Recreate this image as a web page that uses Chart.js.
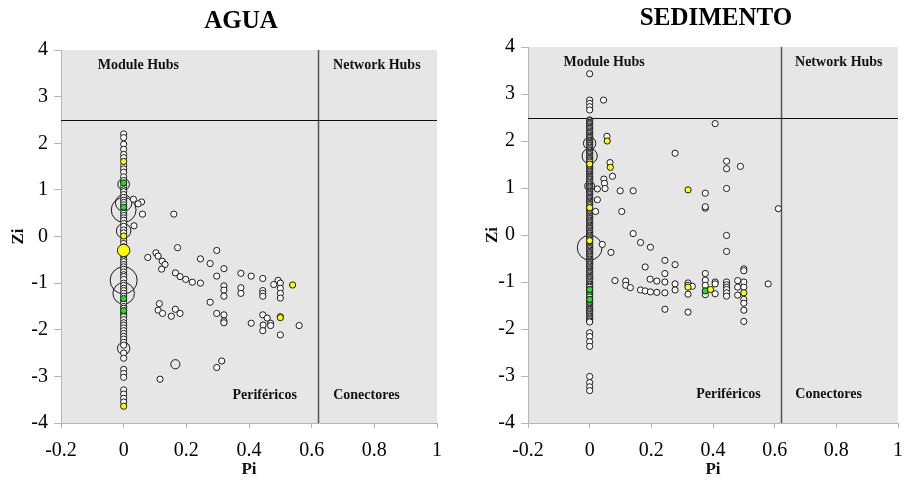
<!DOCTYPE html>
<html>
<head>
<meta charset="utf-8">
<title>Zi-Pi</title>
<script src="https://cdn.jsdelivr.net/npm/chart.js@4.4.1/dist/chart.umd.min.js"></script>
<style>
  html, body { margin: 0; padding: 0; background: #fff; }
  #wrap { position: relative; width: 914px; height: 480px; }
  .panel { position: absolute; top: 0; width: 457px; height: 480px; }
</style>
</head>
<body>
<div id="wrap">
  <div class="panel" style="left:0"><canvas id="agua" width="457" height="480"></canvas></div>
  <div class="panel" style="left:457px"><canvas id="sedimento" width="457" height="480"></canvas></div>
</div>
<script>
// Zi (within-module connectivity) vs Pi (among-module connectivity)
const ZI_CUT = 2.5;
const PI_CUT = 0.62;
const xTicks = [-0.2, 0, 0.2, 0.4, 0.6, 0.8, 1];
const yTicks = [-4, -3, -2, -1, 0, 1, 2, 3, 4];

// ---- AGUA ----
// nodes with Pi = 0
const aguaColY = [2.2, 2.12, 1.98, 1.87, 1.76, 1.69, 1.52, 1.45, 1.38, 1.28, 1.2, 1.07, 1.0, 0.96, 0.9,
  0.84, 0.78, 0.73, 0.68, 0.56, 0.5, 0.45, 0.4, 0.35, 0.28, 0.22, 0.14, 0.08, -0.08, -0.15, -0.22,
  -0.38, -0.43, -0.5, -0.54, -0.6, -0.65, -0.7, -0.76, -0.82, -0.86, -0.92, -1.0, -1.05, -1.11,
  -1.16, -1.22, -1.28, -1.38, -1.43, -1.5, -1.54, -1.64, -1.68, -1.72, -1.78, -1.85, -1.9, -1.96,
  -2.02, -2.08, -2.14, -2.2, -2.27, -2.33, -2.5, -2.61, -2.85, -2.94, -3.02, -3.29, -3.38, -3.47, -3.55];
// other nodes
const aguaPi = [0.031, 0.057, 0.046, 0.06, 0.16, 0.033, 0.172, 0.297, 0.077, 0.103, 0.11, 0.123, 0.132,
  0.121, 0.245, 0.276, 0.32, 0.297, 0.165, 0.18, 0.198, 0.219, 0.245, 0.374, 0.407, 0.444, 0.493,
  0.479, 0.5, 0.32, 0.32, 0.32, 0.374, 0.374, 0.444, 0.444, 0.444, 0.5, 0.5, 0.5, 0.276, 0.114,
  0.11, 0.124, 0.165, 0.152, 0.18, 0.297, 0.32, 0.32, 0.32, 0.407, 0.444, 0.458, 0.469, 0.469,
  0.445, 0.444, 0.5, 0.56, 0.5, 0.116, 0.297, 0.313];
const aguaZi = [0.80, 0.74, 0.70, 0.48, 0.48, 0.23, -0.24, -0.30, -0.45, -0.35, -0.42, -0.53, -0.6,
  -0.70, -0.48, -0.58, -0.69, -0.85, -0.78, -0.86, -0.92, -0.98, -1.0, -0.79, -0.85, -0.90, -0.94,
  -1.03, -1.0, -1.06, -1.15, -1.28, -1.10, -1.22, -1.16, -1.22, -1.28, -1.11, -1.22, -1.32, -1.41,
  -1.44, -1.58, -1.65, -1.56, -1.71, -1.65, -1.65, -1.68, -1.81, -1.85, -1.86, -1.68, -1.75, -1.86,
  -1.91, -1.90, -2.02, -1.72, -1.91, -2.11, -3.06, -2.81, -2.67];
// highly abundant nodes (relative weight)
const aguaBigPi = [0, 0, 0, 0, 0, 0, 0, 0.165];
const aguaBigZi = [0.57, 0.72, 0.12, -0.94, -1.22, 1.12, -2.40, -2.74];
const aguaBigW = [16, 7, 5.5, 19, 12, 3.5, 4, 2.2];
// highlighted nodes
const aguaYellowPi = [0, 0, 0, 0, 0.539, 0.5];
const aguaYellowZi = [1.61, 0.01, -0.30, -3.64, -1.04, -1.74];
const aguaYellowW = [1, 1, 4, 1, 1, 1];
const aguaGreenPi = [0, 0, 0, 0];
const aguaGreenZi = [1.15, 0.63, -1.33, -1.59];

// ---- SEDIMENTO ----
const sedColY = [3.43, 2.87, 2.80, 2.73, 2.66, 2.45, 2.40, 2.35, 2.29, 2.24, 2.18, 2.13, 2.08, 2.02,
  1.97, 1.92, 1.87, 1.81, 1.76, 1.71, 1.65, 1.60, 1.55, 1.46, 1.41, 1.36, 1.30, 1.25, 1.20, 1.15,
  1.09, 1.04, 0.99, 0.93, 0.88, 0.83, 0.78, 0.72, 0.67, 0.62, 0.53, 0.48, 0.43, 0.37, 0.32, 0.27,
  0.21, 0.16, 0.11, 0.05, 0.0, -0.05, -0.10, -0.16, -0.21, -0.26, -0.32, -0.37, -0.42, -0.48, -0.53,
  -0.58, -0.63, -0.69, -0.74, -0.79, -0.85, -0.90, -0.95, -1.01, -1.06, -1.11, -1.21, -1.26, -1.32,
  -1.42, -1.47, -1.53, -1.58, -1.63, -1.69, -1.74, -1.80, -1.85, -2.08, -2.16, -2.27, -2.37,
  -3.01, -3.14, -3.23, -3.31,
  2.43, 2.38, 2.32, 2.27, 2.21, 2.16, 2.10, 2.05, 2.0, 1.95, 1.9, 1.84, 1.79, 1.74, 1.68, 1.63,
  1.58, 1.5, 1.44, 1.39, 1.33, 1.28, 1.23, 1.18, 1.12, 1.07, 1.02, 0.96, 0.91, 0.86, 0.8, 0.75,
  0.7, 0.65, 0.58, 0.51, 0.46, 0.4, 0.35, 0.3, 0.24, 0.19, 0.14, 0.08, 0.03, -0.02, -0.08, -0.13,
  -0.19, -0.24, -0.29, -0.35, -0.4, -0.45, -0.51, -0.56, -0.61, -0.66, -0.72, -0.77, -0.82, -0.88,
  -0.93, -0.98, -1.04, -1.09, -1.16, -1.24, -1.29, -1.37, -1.45, -1.5, -1.56, -1.61, -1.66, -1.72,
  -1.77, -1.83];
const sedPi = [0.045, 0.407, 0.056, 0.277, 0.066, 0.074, 0.444, 0.444, 0.489, 0.046, 0.048, 0.05,
  0.025, 0.025, 0.019, 0.099, 0.141, 0.375, 0.444, 0.375, 0.375, 0.612, 0.104, 0.141, 0.165, 0.197,
  0.069, 0.041, 0.444, 0.444, 0.244, 0.277, 0.18, 0.244, 0.5, 0.082, 0.117, 0.117, 0.132, 0.196,
  0.218, 0.244, 0.165, 0.18, 0.197, 0.218, 0.244, 0.277, 0.277, 0.319, 0.319, 0.319, 0.333, 0.375,
  0.375, 0.375, 0.375, 0.407, 0.407, 0.407, 0.444, 0.444, 0.444, 0.444, 0.444, 0.444, 0.48, 0.48,
  0.48, 0.5, 0.5, 0.5, 0.5, 0.5, 0.5, 0.244, 0.319, 0.579, 0.5];
const sedZi = [2.87, 2.37, 2.1, 1.74, 1.54, 1.25, 1.57, 1.41, 1.46, 1.19, 1.10, 0.99, 0.98, 0.75, 0.5,
  0.94, 0.94, 0.89, 0.99, 0.57, 0.60, 0.56, 0.5, 0.03, -0.16, -0.26, -0.37, -0.2, -0.01, -0.35, -0.54,
  -0.63, -0.68, -0.82, -0.72, -0.97, -0.98, -1.07, -1.12, -0.94, -0.98, -1.0, -1.17, -1.19, -1.21,
  -1.22, -1.23, -1.04, -1.17, -1.02, -1.07, -1.26, -1.09, -0.82, -0.96, -1.07, -1.27, -1.0, -1.04,
  -1.25, -1.0, -1.06, -1.11, -1.16, -1.23, -1.30, -0.97, -1.11, -1.28, -1.0, -1.11, -1.37, -1.45,
  -1.6, -1.84, -1.58, -1.64, -1.04, -0.76];
const sedBigPi = [0, 0, 0, 0];
const sedBigZi = [-0.27, 1.95, 1.68, 1.04];
const sedBigW = [16, 4, 6, 2.5];
const sedYellowPi = [0, 0, 0, 0.057, 0.067, 0.319, 0.319, 0.392, 0.5];
const sedYellowZi = [1.51, 0.58, -0.12, 2.0, 1.44, 0.96, -1.11, -1.16, -1.23];
const sedYellowW = [1, 1, 1, 1, 1, 1, 1, 1, 1];
const sedGreenPi = [0, 0, 0.375];
const sedGreenZi = [-1.16, -1.37, -1.19];

const SERIF = '"Liberation Serif", "Times New Roman", serif';
const BASE_R = 3.1;

function pts(xs, ys) {
  return xs.map((x, i) => ({ x: x, y: ys[i] }));
}
// Pi = 0 nodes, drawn from the top down so the stack reads as one column
function column(ys) {
  return ys.slice().sort((a, b) => b - a).map(y => ({ x: 0, y: y }));
}

// gray plot area, cut-off lines, role labels and panel title
const rolesPlugin = {
  id: 'roles',
  beforeDraw(chart) {
    const a = chart.chartArea, c = chart.ctx;
    c.save();
    c.fillStyle = '#e6e6e6';
    c.fillRect(a.left, a.top, a.right - a.left, a.bottom - a.top);
    c.restore();
  },
  beforeDatasetsDraw(chart) {
    const a = chart.chartArea, c = chart.ctx;
    const xs = chart.scales.x, ys = chart.scales.y;
    const px = Math.round(xs.getPixelForValue(PI_CUT)) + 0.5;
    const py = Math.round(ys.getPixelForValue(ZI_CUT)) + 0.5;
    c.save();
    c.strokeStyle = '#555';
    c.lineWidth = 1.5;
    c.beginPath();
    c.moveTo(px, a.top);
    c.lineTo(px, a.bottom);
    c.stroke();
    c.strokeStyle = '#111';
    c.lineWidth = 1;
    c.beginPath();
    c.moveTo(a.left, py);
    c.lineTo(a.right, py);
    c.stroke();
    c.restore();
  },
  afterDraw(chart, args, opts) {
    const a = chart.chartArea, c = chart.ctx;
    const xs = chart.scales.x, ys = chart.scales.y;
    c.save();
    c.fillStyle = '#111';
    c.textAlign = 'center';
    c.textBaseline = 'middle';
    c.font = 'bold 14px ' + SERIF;
    opts.labels.forEach(l => {
      c.fillText(l.text, xs.getPixelForValue(l.x), ys.getPixelForValue(l.y));
    });
    c.fillStyle = '#000';
    c.font = 'bold 25px ' + SERIF;
    c.fillText(opts.title, (a.left + a.right) / 2 + opts.titleShift, opts.titleY);
    c.restore();
  }
};

function makeChart(id, d) {
  const axisColor = '#b5b5b5';
  return new Chart(document.getElementById(id), {
    type: 'scatter',
    data: {
      datasets: [
        {
          label: 'highlight-yellow',
          data: pts(d.yellowPi, d.yellowZi),
          backgroundColor: '#ffff00',
          pointRadius: ctx => BASE_R * Math.sqrt(d.yellowW[ctx.dataIndex] || 1)
        },
        {
          label: 'highlight-green',
          data: pts(d.greenPi, d.greenZi),
          backgroundColor: '#22e022',
          pointRadius: BASE_R
        },
        {
          label: 'nodes',
          data: pts(d.pi, d.zi),
          backgroundColor: '#ffffff',
          pointRadius: BASE_R
        },
        {
          label: 'nodes-pi0',
          data: column(d.colY),
          backgroundColor: '#ffffff',
          pointRadius: BASE_R
        },
        {
          label: 'abundant',
          data: pts(d.bigPi, d.bigZi),
          backgroundColor: 'rgba(0,0,0,0)',
          pointRadius: ctx => BASE_R * Math.sqrt(d.bigW[ctx.dataIndex])
        }
      ].map(ds => Object.assign({ borderColor: '#1a1a1a', borderWidth: 1, pointHoverRadius: ds.pointRadius }, ds))
    },
    options: {
      responsive: false,
      animation: false,
      devicePixelRatio: 1,
      layout: { padding: { top: d.top, right: d.right, left: 0, bottom: 0 } },
      plugins: {
        legend: { display: false },
        tooltip: { enabled: false },
        roles: {
          title: d.title,
          titleShift: d.titleShift,
          titleY: d.titleY,
          labels: [
            { text: 'Module Hubs', x: 0.047, y: 3.67 },
            { text: 'Network Hubs', x: 0.808, y: 3.67 },
            { text: 'Periféricos', x: 0.45, y: -3.4 },
            { text: 'Conectores', x: 0.775, y: -3.4 }
          ]
        }
      },
      scales: {
        x: {
          type: 'linear',
          min: -0.2,
          max: 1,
          afterBuildTicks: s => { s.ticks = xTicks.map(v => ({ value: v })); },
          afterFit: s => { s.height = 57; },
          border: { color: axisColor },
          grid: { drawOnChartArea: false, tickLength: 5, color: axisColor },
          ticks: {
            padding: 11,
            color: '#000',
            font: { family: SERIF, size: 20 },
            callback: v => String(Math.round(v * 10) / 10)
          },
          title: {
            display: true,
            text: 'Pi',
            color: '#111',
            font: { family: SERIF, size: 17, weight: 'bold' },
            padding: { top: 0, bottom: 0 }
          }
        },
        y: {
          type: 'linear',
          min: -4,
          max: 4,
          afterBuildTicks: s => { s.ticks = yTicks.map(v => ({ value: v })); },
          afterFit: s => { s.width = d.yWidth; },
          border: { color: axisColor },
          grid: { drawOnChartArea: false, tickLength: 7, color: axisColor },
          ticks: {
            padding: 6,
            color: '#000',
            font: { family: SERIF, size: 20 },
            callback: v => String(v)
          },
          title: {
            display: true,
            text: 'Zi',
            color: '#111',
            font: { family: SERIF, size: 17, weight: 'bold' },
            padding: { top: d.zPad, bottom: 0 }
          }
        }
      }
    },
    plugins: [rolesPlugin]
  });
}

makeChart('agua', {
  title: 'AGUA', titleShift: -8, titleY: 22,
  top: 50, right: 20, yWidth: 61, zPad: 8,
  colY: aguaColY, pi: aguaPi, zi: aguaZi,
  bigPi: aguaBigPi, bigZi: aguaBigZi, bigW: aguaBigW,
  yellowPi: aguaYellowPi, yellowZi: aguaYellowZi, yellowW: aguaYellowW,
  greenPi: aguaGreenPi, greenZi: aguaGreenZi
});

makeChart('sedimento', {
  title: 'SEDIMENTO', titleShift: 3, titleY: 19,
  top: 47, right: 6, yWidth: 71, zPad: 25,
  colY: sedColY, pi: sedPi, zi: sedZi,
  bigPi: sedBigPi, bigZi: sedBigZi, bigW: sedBigW,
  yellowPi: sedYellowPi, yellowZi: sedYellowZi, yellowW: sedYellowW,
  greenPi: sedGreenPi, greenZi: sedGreenZi
});
</script>
</body>
</html>
